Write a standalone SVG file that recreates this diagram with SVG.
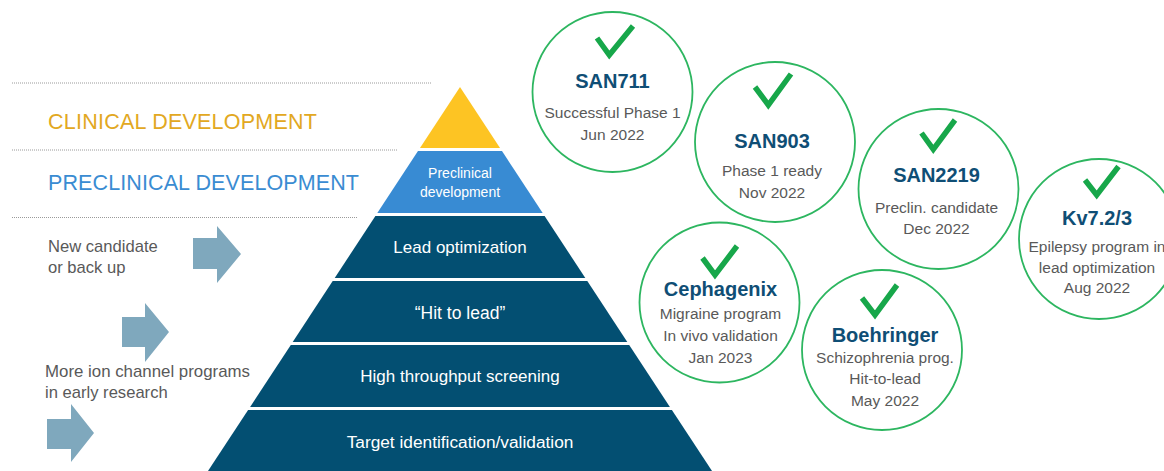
<svg xmlns="http://www.w3.org/2000/svg" width="1164" height="471" viewBox="0 0 1164 471">
<style>
.t{font-family:"Liberation Sans",Arial,sans-serif}
.w{fill:#ffffff;text-anchor:middle}
.g{fill:#595959}
.gc{fill:#595959;text-anchor:middle;font-size:15.5px}
.nv{fill:#0F4E75;text-anchor:middle;font-size:20px;font-weight:bold}
.dark{fill:#034F72}
.ring{fill:none;stroke:#2DB660;stroke-width:1.8}
.chk{fill:none;stroke:#17A74A;stroke-width:5.5}
.dot{stroke:#9a9a9a;stroke-width:1;stroke-dasharray:1 1}
.arr{fill:#7FA8BD}
</style>
<rect width="1164" height="471" fill="#ffffff"/>

<g id="left-labels">
  <line class="dot" x1="12" y1="83" x2="431" y2="83"/>
  <line class="dot" x1="12" y1="150" x2="398" y2="150"/>
  <line class="dot" x1="12" y1="217.5" x2="358" y2="217.5"/>
  <text class="t" x="48" y="129" font-size="21.5" fill="#E2A822" textLength="269" lengthAdjust="spacing">CLINICAL DEVELOPMENT</text>
  <text class="t" x="48" y="190" font-size="21.5" fill="#3A8CD2" textLength="311" lengthAdjust="spacing">PRECLINICAL DEVELOPMENT</text>
  <text class="t g" x="48" y="252" font-size="16.6">New candidate</text>
  <text class="t g" x="48" y="273" font-size="16.6">or back up</text>
  <text class="t g" x="45" y="377" font-size="16.6" textLength="205" lengthAdjust="spacingAndGlyphs">More ion channel programs</text>
  <text class="t g" x="45" y="398" font-size="16.6">in early research</text>
</g>

<g id="arrows">
  <polygon class="arr" points="193,238 217,238 217,226 241,254 217,283 217,269 193,269"/>
  <polygon class="arr" points="122,317 145,317 145,303 169,332 145,362 145,347 122,347"/>
  <polygon class="arr" points="47,419 71,419 71,404 94,433 71,462 71,449 47,449"/>
</g>

<g id="pyramid">
  <g id="band-clinical"><polygon fill="#FDC423" points="460,87 500,148 420,148"/></g>
  <g id="band-preclinical">
    <polygon fill="#388BD3" points="418,151 502,151 542.7,213 377.3,213"/>
    <text class="t w" x="460" y="178" font-size="14">Preclinical</text>
    <text class="t w" x="460" y="197" font-size="14">development</text>
  </g>
  <g id="band-lead">
    <polygon class="dark" points="375.4,216 544.6,216 585.3,278 334.7,278"/>
    <text class="t w" x="460" y="253" font-size="17">Lead optimization</text>
  </g>
  <g id="band-hit">
    <polygon class="dark" points="332.7,281 587.3,281 627.3,342 292.7,342"/>
    <text class="t w" x="460" y="319" font-size="17.5">“Hit to lead”</text>
  </g>
  <g id="band-hts">
    <polygon class="dark" points="290.8,345 629.2,345 669.9,407 250.1,407"/>
    <text class="t w" x="460" y="382" font-size="17">High throughput screening</text>
  </g>
  <g id="band-target">
    <polygon class="dark" points="248.1,410 671.9,410 714,474 206,474"/>
    <text class="t w" x="460" y="448" font-size="17.3">Target identification/validation</text>
  </g>
</g>

<g id="san711">
  <circle class="ring" cx="612.5" cy="92" r="80"/>
  <polyline class="chk" points="597,38 609.3,55 633,26"/>
  <text class="t nv" x="612.5" y="88">SAN711</text>
  <text class="t gc" x="612.5" y="118">Successful Phase 1</text>
  <text class="t gc" x="612.5" y="140">Jun 2022</text>
</g>

<g id="san903">
  <circle class="ring" cx="775" cy="142" r="80"/>
  <polyline class="chk" points="755,87 768.3,105 791,74"/>
  <text class="t nv" x="772" y="147.5">SAN903</text>
  <text class="t gc" x="772" y="176">Phase 1 ready</text>
  <text class="t gc" x="772" y="197.5">Nov 2022</text>
</g>

<g id="san2219">
  <circle class="ring" cx="938.5" cy="189" r="80"/>
  <polyline class="chk" points="921.5,133 933.3,149.3 955,120"/>
  <text class="t nv" x="936.5" y="181.5">SAN2219</text>
  <text class="t gc" x="936.5" y="212.5">Preclin. candidate</text>
  <text class="t gc" x="936.5" y="234">Dec 2022</text>
</g>

<g id="kv72">
  <circle class="ring" cx="1099" cy="239" r="80"/>
  <polyline class="chk" points="1085,180 1096.7,195 1118.5,166.5"/>
  <text class="t nv" x="1097" y="225">Kv7.2/3</text>
  <text class="t gc" x="1097" y="251.5">Epilepsy program in</text>
  <text class="t gc" x="1097" y="273">lead optimization</text>
  <text class="t gc" x="1097" y="293">Aug 2022</text>
</g>

<g id="cephagenix">
  <circle class="ring" cx="719.5" cy="302.5" r="80"/>
  <polyline class="chk" points="702.5,258 715,275 737,246"/>
  <text class="t nv" x="720.5" y="296">Cephagenix</text>
  <text class="t gc" x="720.5" y="319">Migraine program</text>
  <text class="t gc" x="720.5" y="340.5">In vivo validation</text>
  <text class="t gc" x="720.5" y="363">Jan 2023</text>
</g>

<g id="boehringer">
  <circle class="ring" cx="882" cy="350" r="80"/>
  <polyline class="chk" points="862,298 875,315 897,285"/>
  <text class="t nv" x="885" y="341.5">Boehringer</text>
  <text class="t gc" x="885" y="362.5">Schizophrenia prog.</text>
  <text class="t gc" x="885" y="384">Hit-to-lead</text>
  <text class="t gc" x="885" y="406">May 2022</text>
</g>
</svg>
